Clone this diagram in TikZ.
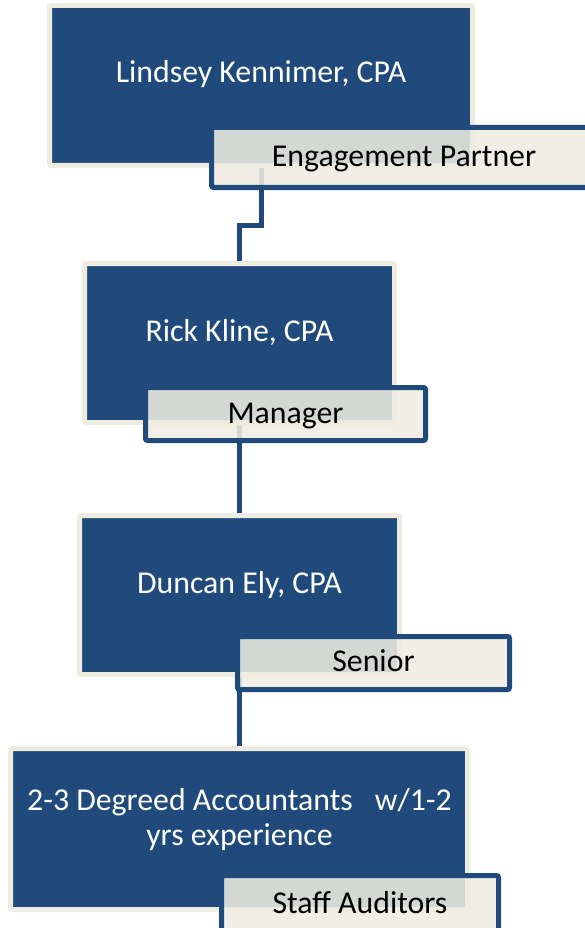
\documentclass[tikz,border=0pt]{standalone}
\usepackage{fontspec}
\setmainfont{Carlito}
\usetikzlibrary{calc}
\definecolor{orgblue}{RGB}{32,74,124}
\definecolor{orgcream}{RGB}{238,236,225}
\tikzset{
  orgbox/.style={draw=orgcream, fill=orgblue, line width=5pt, rounded corners=1.5pt, inner sep=0pt},
  orglabel/.style={draw=orgblue, fill=orgcream, fill opacity=0.88, line width=5pt, rounded corners=2pt, inner sep=0pt},
  boxtext/.style={text=white, anchor=base, inner sep=0pt, font=\fontsize{31.8}{35}\selectfont, align=center},
  labeltext/.style={text=black, anchor=base, inner sep=0pt, font=\fontsize{31.8}{35}\selectfont},
  conn/.style={draw=orgblue, line width=5pt}
}
\begin{document}
\begin{tikzpicture}[x=1pt,y=-1pt]
\useasboundingbox (0,0) rectangle (585,928);
\clip (0,0) rectangle (585,928);
\path
  coordinate (b1c) at (261,85.5)
  coordinate (b2c) at (239.5,343)
  coordinate (b3c) at (239.5,595)
  coordinate (b4c) at (239,829);
% connectors
\coordinate (b1s) at (261,168);
\coordinate (b2n) at (239.5,261);
\coordinate (l1s) at (261,190);
\coordinate (m1) at ($(l1s)!0.5!(b2n)$);
\draw[conn] (b1s) -- (b1s |- m1) -- (b2n |- m1) -- (b2n);
\coordinate (b2s) at (239.5,425);
\coordinate (b3n) at (239.5,513);
\draw[conn] (b2s) -- (b3n);
\coordinate (b3s) at (239.5,677);
\coordinate (b4n) at (239.5,746);
\draw[conn] (b3s) -- (b4n);
% boxes
\node[orgbox, minimum width=423pt, minimum height=160pt] (b1) at (b1c) {};
\node[orgbox, minimum width=310pt, minimum height=159pt] (b2) at (b2c) {};
\node[orgbox, minimum width=320pt, minimum height=159pt] (b3) at (b3c) {};
\node[orgbox, minimum width=457pt, minimum height=161pt] (b4) at (b4c) {};
% box texts
\node[boxtext] (t1) at (261,83) {Lindsey Kennimer, CPA};
\node[boxtext] (t2) at (239.5,341) {Rick Kline, CPA};
\node[boxtext] (t3) at (239.5,593) {Duncan Ely, CPA};
\node[boxtext] (t4) at (239.5,845) {2-3 Degreed Accountants\hspace{22pt}w/1-2\\yrs experience};
% labels
\node[orglabel, minimum width=386pt, minimum height=60pt] (l1) at (404.5,157.5) {};
\node[orglabel, minimum width=280pt, minimum height=53pt] (l2) at (285.5,414) {};
\node[orglabel, minimum width=272pt, minimum height=53pt] (l3) at (373.5,663) {};
\node[orglabel, minimum width=277pt, minimum height=59pt] (l4) at (360,905) {};
\node[labeltext] (lt1) at (404,166.5) {Engagement Partner};
\node[labeltext] (lt2) at (285.5,423) {Manager};
\node[labeltext] (lt3) at (373.5,671) {Senior};
\node[labeltext] (lt4) at (360,913) {Staff Auditors};
\end{tikzpicture}
\end{document}
